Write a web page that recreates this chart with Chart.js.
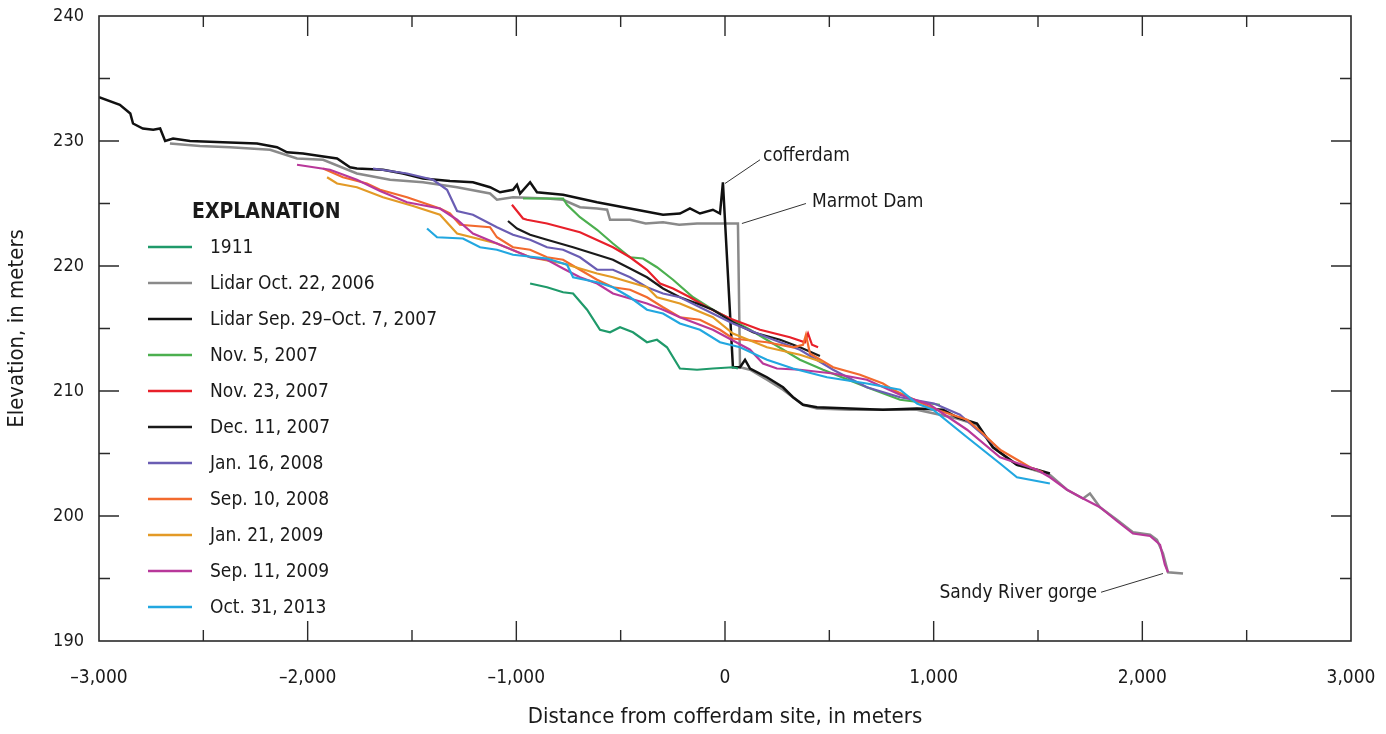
<!DOCTYPE html>
<html>
<head>
<meta charset="utf-8">
<script src="https://cdn.jsdelivr.net/npm/chart.js@4.4.1/dist/chart.umd.min.js"></script>
<style>
html, body { margin: 0; padding: 0; background: #fff; }
#caja { width: 1386px; height: 734px; }
</style>
</head>
<body>
<div id="caja"><canvas id="grafico"></canvas></div>
<script>
// Perfiles longitudinales (distancia en m, elevación en m)
let dist1911 = [-934, -853, -776, -728, -661, -599, -551, -503, -441, -374, -326, -278, -216, -134, -58, 38, 62];
let elev1911 = [218.6, 218.3, 217.9, 217.8, 216.5, 214.9, 214.7, 215.1, 214.7, 213.9, 214.1, 213.5, 211.8, 211.7, 211.8, 211.9, 211.8];

let distLidar2006 = [-2660, -2516, -2372, -2180, -2051, -1926, -1764, -1605, -1447, -1284, -1126, -1093, -1016, -853, -776, -695, -613, -565, -551, -455, -380, -297, -220, -134, -58, 62, 72, 120, 201, 278, 374, 441, 599, 920, 1112, 1208, 1284, 1399, 1557, 1639, 1716, 1749, 1797, 1878, 1955, 2037, 2070, 2099, 2123, 2195];
let elevLidar2006 = [229.8, 229.6, 229.5, 229.3, 228.6, 228.5, 227.4, 226.9, 226.7, 226.3, 225.8, 225.3, 225.5, 225.4, 225.3, 224.7, 224.6, 224.5, 223.7, 223.7, 223.4, 223.5, 223.3, 223.4, 223.4, 223.4, 211.9, 211.7, 210.9, 210.1, 208.9, 208.6, 208.5, 208.5, 207.8, 207.3, 205.5, 204.1, 203.3, 202.1, 201.4, 201.8, 200.7, 199.7, 198.7, 198.5, 198.1, 197.0, 195.5, 195.4];

let distLidar2007 = [-3000, -2900, -2850, -2837, -2790, -2740, -2707, -2683, -2645, -2564, -2406, -2243, -2147, -2099, -2022, -1941, -1859, -1797, -1764, -1639, -1543, -1447, -1318, -1208, -1126, -1078, -1016, -997, -982, -934, -901, -776, -613, -455, -297, -216, -168, -120, -58, -24, -10, 38, 72, 96, 120, 201, 278, 326, 374, 441, 599, 757, 920, 1045, 1112, 1208, 1284, 1399, 1495, 1557];
let elevLidar2007 = [233.5, 232.9, 232.2, 231.4, 231.0, 230.9, 231.0, 230.0, 230.2, 230.0, 229.9, 229.8, 229.5, 229.1, 229.0, 228.8, 228.6, 227.9, 227.8, 227.7, 227.4, 227.0, 226.8, 226.7, 226.3, 225.9, 226.1, 226.5, 225.8, 226.7, 225.9, 225.7, 225.1, 224.6, 224.1, 224.2, 224.6, 224.2, 224.5, 224.2, 226.7, 211.9, 211.9, 212.5, 211.8, 211.1, 210.3, 209.5, 208.9, 208.7, 208.6, 208.5, 208.6, 208.5, 207.9, 207.4, 205.5, 204.1, 203.7, 203.4];

let distNov5 = [-968, -776, -757, -695, -613, -537, -455, -393, -326, -249, -153, -58, 120, 359, 470, 680, 839, 1030];
let elevNov5 = [225.4, 225.4, 224.9, 223.9, 222.9, 221.8, 220.7, 220.6, 219.9, 218.9, 217.5, 216.5, 214.9, 212.5, 211.7, 210.3, 209.3, 208.9];

let distNov23 = [-1021, -968, -949, -853, -695, -537, -455, -374, -311, -249, -168, -86, 24, 168, 311, 383, 398, 417, 446];
let elevNov23 = [224.9, 223.8, 223.7, 223.4, 222.7, 221.5, 220.7, 219.7, 218.6, 218.2, 217.5, 216.7, 215.8, 214.9, 214.3, 213.9, 214.6, 213.7, 213.5];

let distDec11 = [-1040, -997, -934, -853, -728, -613, -537, -455, -374, -297, -216, -134, -58, 38, 134, 264, 359, 455];
let elevDec11 = [223.6, 223.0, 222.5, 222.1, 221.5, 220.9, 220.5, 219.8, 219.1, 218.2, 217.5, 217.0, 216.5, 215.5, 214.7, 214.1, 213.5, 212.8];

let distJan16 = [-1687, -1524, -1399, -1332, -1284, -1208, -1093, -1016, -934, -853, -776, -695, -613, -537, -455, -374, -297, -216, -120, 38, 201, 359, 518, 680, 839, 1002, 1126, 1318];
let elevJan16 = [227.8, 227.4, 226.9, 226.1, 224.4, 224.1, 223.1, 222.5, 222.1, 221.5, 221.3, 220.7, 219.7, 219.7, 219.1, 218.3, 217.8, 217.5, 216.7, 215.4, 214.3, 213.3, 211.7, 210.3, 209.5, 209.0, 208.1, 205.3];

let distSep10 = [-1926, -1831, -1716, -1653, -1524, -1366, -1318, -1270, -1126, -1093, -1016, -934, -853, -776, -695, -613, -537, -455, -374, -297, -216, -120, -24, 38, 201, 326, 374, 388, 407, 518, 647, 757, 805, 997, 1160, 1236, 1318, 1462, 1524];
let elevSep10 = [227.8, 227.1, 226.6, 226.1, 225.5, 224.6, 224.2, 223.3, 223.1, 222.3, 221.5, 221.3, 220.7, 220.5, 219.7, 218.9, 218.3, 218.1, 217.5, 216.7, 215.9, 215.7, 214.9, 214.2, 213.9, 213.5, 213.7, 214.5, 213.0, 211.9, 211.3, 210.6, 210.1, 208.6, 207.7, 206.6, 205.3, 203.9, 203.5];

let distJan21 = [-1907, -1859, -1764, -1639, -1495, -1366, -1284, -1093, -934, -776, -613, -537, -374, -326, -216, -58, 38, 201, 359, 470];
let elevJan21 = [227.1, 226.6, 226.3, 225.5, 224.8, 224.1, 222.6, 221.8, 220.7, 220.2, 219.4, 219.1, 218.3, 217.5, 217.0, 215.9, 214.6, 213.5, 212.9, 212.3];

let distSep11 = [-2051, -1893, -1764, -1653, -1524, -1366, -1284, -1208, -1093, -934, -853, -776, -695, -613, -537, -374, -297, -216, -58, 120, 182, 249, 359, 518, 680, 839, 982, 1160, 1318, 1495, 1557, 1639, 1716, 1797, 1878, 1955, 2037, 2085, 2108, 2123];
let elevSep11 = [228.1, 227.7, 226.9, 226.0, 225.1, 224.6, 223.7, 222.6, 221.8, 220.7, 220.5, 219.8, 219.1, 218.6, 217.8, 217.0, 216.5, 215.9, 214.9, 213.3, 212.2, 211.8, 211.7, 211.4, 210.9, 209.7, 208.9, 206.9, 204.7, 203.7, 203.1, 202.1, 201.4, 200.7, 199.6, 198.6, 198.4, 197.7, 196.1, 195.5];

let distOct31 = [-1428, -1380, -1256, -1174, -1093, -1016, -853, -757, -728, -613, -537, -455, -374, -297, -216, -120, -24, 72, 201, 326, 489, 680, 839, 920, 997, 1160, 1318, 1399, 1557];
let elevOct31 = [223.0, 222.3, 222.2, 221.5, 221.3, 220.9, 220.6, 220.1, 219.1, 218.7, 218.3, 217.5, 216.5, 216.2, 215.4, 214.9, 213.9, 213.5, 212.5, 211.8, 211.1, 210.6, 210.1, 209.0, 208.5, 206.3, 204.2, 203.1, 202.6];

let nombres = ["1911", "Lidar Oct. 22, 2006", "Lidar Sep. 29\u2013Oct. 7, 2007", "Nov. 5, 2007", "Nov. 23, 2007",
    "Dec. 11, 2007", "Jan. 16, 2008", "Sep. 10, 2008", "Jan. 21, 2009", "Sep. 11, 2009", "Oct. 31, 2013"];
let xTicks = [-3000, -2000, -1000, 0, 1000, 2000, 3000];
let yTicks = [190, 200, 210, 220, 230, 240];

let fuente = "'Liberation Sans Narrow', 'Arial Narrow', 'DejaVu Sans Condensed', sans-serif";

function puntos(xs, ys) {
    return xs.map(function (x, i) { return { x: x, y: ys[i] }; });
}

function serie(i, xs, ys, color, ancho, orden) {
    return {
        label: nombres[i],
        data: puntos(xs, ys),
        borderColor: color,
        backgroundColor: color,
        borderWidth: ancho,
        pointRadius: 0,
        tension: 0,
        order: orden
    };
}

let datasets = [
    serie(0, dist1911, elev1911, "#1f9a6a", 2.2, 12),
    serie(1, distLidar2006, elevLidar2006, "#8a8a8a", 2.5, 21),
    serie(2, distLidar2007, elevLidar2007, "#111111", 2.5, 20),
    serie(3, distNov5, elevNov5, "#4caf4f", 2.2, 10),
    serie(4, distNov23, elevNov23, "#e8202a", 2.2, 9),
    serie(5, distDec11, elevDec11, "#1a1a1a", 2.2, 8),
    serie(6, distJan16, elevJan16, "#6a5db3", 2.2, 7),
    serie(7, distSep10, elevSep10, "#f26a2e", 2.2, 6),
    serie(8, distJan21, elevJan21, "#e39a26", 2.2, 5),
    serie(9, distSep11, elevSep11, "#b8389a", 2.2, 4),
    serie(10, distOct31, elevOct31, "#22a7e0", 2.2, 3)
];

function formato(v) {
    let s = Math.abs(v).toLocaleString("en-US");
    return v < 0 ? "\u2013" + s : s;
}

// marco con marcas hacia adentro
let marco = {
    id: "marco",
    afterDatasetsDraw: function (chart) {
        let ctx = chart.ctx;
        let a = chart.chartArea;
        let sx = chart.scales.x, sy = chart.scales.y;
        ctx.save();
        ctx.strokeStyle = "#2a2a2a";
        ctx.lineWidth = 1.6;
        ctx.strokeRect(a.left, a.top, a.right - a.left, a.bottom - a.top);
        ctx.lineWidth = 1.4;
        ctx.beginPath();
        for (let v = -2500; v <= 2500; v += 500) {
            let px = sx.getPixelForValue(v);
            let l = v % 1000 === 0 ? 20 : 11;
            ctx.moveTo(px, a.bottom); ctx.lineTo(px, a.bottom - l);
            ctx.moveTo(px, a.top); ctx.lineTo(px, a.top + l);
        }
        for (let v = 195; v <= 235; v += 5) {
            let py = sy.getPixelForValue(v);
            let l = v % 10 === 0 ? 20 : 11;
            ctx.moveTo(a.left, py); ctx.lineTo(a.left + l, py);
            ctx.moveTo(a.right, py); ctx.lineTo(a.right - l, py);
        }
        ctx.stroke();
        ctx.restore();
    }
};

// leyenda "EXPLANATION" dentro del área
let leyenda = {
    id: "leyenda",
    afterDatasetsDraw: function (chart) {
        let ctx = chart.ctx;
        let a = chart.chartArea;
        ctx.save();
        ctx.fillStyle = "#1a1a1a";
        ctx.textBaseline = "middle";
        ctx.font = "bold 21px " + fuente;
        ctx.fillText("EXPLANATION", a.left + 93, a.top + 197);
        ctx.font = "19px " + fuente;
        chart.data.datasets.forEach(function (ds, i) {
            let y = a.top + 231 + i * 36;
            ctx.strokeStyle = ds.borderColor;
            ctx.lineWidth = 2.4;
            ctx.beginPath();
            ctx.moveTo(a.left + 49, y);
            ctx.lineTo(a.left + 93, y);
            ctx.stroke();
            ctx.fillText(ds.label, a.left + 111, y + 1);
        });
        ctx.restore();
    }
};

// rótulos con líneas guía
let notas = [
    { texto: "cofferdam", tx: 182, ty: 228.8, desde: [168, 228.5], hasta: [0, 226.6] },
    { texto: "Marmot Dam", tx: 417, ty: 225.1, desde: [388, 225.0], hasta: [81, 223.4] },
    { texto: "Sandy River gorge", tx: 1783, ty: 193.8, desde: [1802, 193.9], hasta: [2099, 195.4], derecha: true }
];

let rotulos = {
    id: "rotulos",
    afterDatasetsDraw: function (chart) {
        let ctx = chart.ctx;
        let sx = chart.scales.x, sy = chart.scales.y;
        ctx.save();
        ctx.font = "19px " + fuente;
        ctx.fillStyle = "#1a1a1a";
        ctx.strokeStyle = "#333";
        ctx.lineWidth = 1;
        ctx.textBaseline = "middle";
        notas.forEach(function (n) {
            ctx.beginPath();
            ctx.moveTo(sx.getPixelForValue(n.desde[0]), sy.getPixelForValue(n.desde[1]));
            ctx.lineTo(sx.getPixelForValue(n.hasta[0]), sy.getPixelForValue(n.hasta[1]));
            ctx.stroke();
            ctx.textAlign = n.derecha ? "right" : "left";
            ctx.fillText(n.texto, sx.getPixelForValue(n.tx), sy.getPixelForValue(n.ty));
        });
        ctx.restore();
    }
};

Chart.defaults.font.family = fuente;
Chart.defaults.color = "#1a1a1a";

let ctx = document.getElementById("grafico").getContext("2d");
let grafico = new Chart(ctx, {
    type: "line",
    data: { datasets: datasets },
    options: {
        responsive: true,
        maintainAspectRatio: false,
        animation: false,
        layout: { padding: { top: 16, right: 35, bottom: 0, left: 0 } },
        plugins: { legend: { display: false }, tooltip: { enabled: false } },
        scales: {
            x: {
                type: "linear",
                min: -3000, max: 3000,
                afterFit: function (s) { s.height = 93; s.paddingLeft = 0; s.paddingRight = 0; },
                afterBuildTicks: function (s) { s.ticks = xTicks.map(function (v) { return { value: v }; }); },
                ticks: { callback: formato, padding: 26, maxRotation: 0, font: { size: 19 } },
                grid: { display: false, drawTicks: false },
                border: { display: false },
                title: { display: true, text: "Distance from cofferdam site, in meters", font: { size: 22 }, padding: { top: 0, bottom: 4 } }
            },
            y: {
                type: "linear",
                min: 190, max: 240,
                afterFit: function (s) { s.width = 99; s.paddingTop = 0; s.paddingBottom = 0; },
                afterBuildTicks: function (s) { s.ticks = yTicks.map(function (v) { return { value: v }; }); },
                ticks: { padding: 15, font: { size: 18 } },
                grid: { display: false, drawTicks: false },
                border: { display: false },
                title: { display: true, text: "Elevation, in meters", font: { size: 22 }, padding: { top: 4, bottom: 0 } }
            }
        }
    },
    plugins: [marco, leyenda, rotulos]
});
</script>
</body>
</html>
